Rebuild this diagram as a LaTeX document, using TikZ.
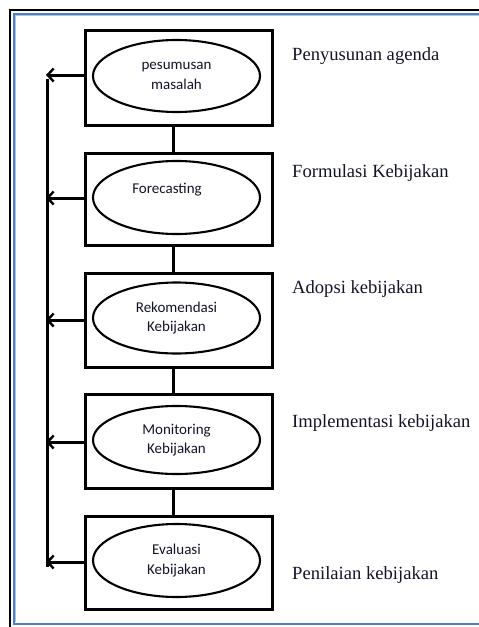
\documentclass[tikz,border=0pt]{standalone}
\usepackage{fontspec}
\setmainfont{Liberation Serif}
\newfontfamily\boxfont{Carlito}
\usetikzlibrary{arrows.meta,shapes.geometric}
\definecolor{frameblue}{RGB}{79,129,189}
\definecolor{framelight}{RGB}{170,195,225}
\definecolor{inktext}{RGB}{20,20,40}
\tikzset{
  stagebox/.style={draw, line width=3pt, minimum width=187pt, inner sep=0pt},
  stageell/.style={draw, ellipse, line width=2.1pt, minimum width=167pt, inner sep=0pt, font=\boxfont\fontsize{15}{19.5}\selectfont, text=inktext, align=center},
  sidelabel/.style={anchor=base west, inner sep=0pt, font=\fontsize{18.6}{22}\selectfont, text=inktext},
  link/.style={line width=3pt},
  backarrow/.style={line width=3pt, -{Straight Barb[length=6pt,width=13pt,line width=2.4pt]}},
}
\begin{document}
\begin{tikzpicture}[x=1pt,y=-1pt]
\useasboundingbox (0,0) rectangle (479,627);
% frames
\draw[line width=2.6pt] (479,10) -- (10,10) -- (10,627);
\draw[framelight, line width=1pt] (479,15.5) -- (15.5,15.5) -- (15.5,622);
\draw[frameblue, line width=1.9pt] (479,13.6) -- (13.6,13.6) -- (13.6,624.2) -- (479,624.2);
% boxes
\node[stagebox, minimum height=95pt] (b1) at (178.5,77.5) {};
\node[stagebox, minimum height=92pt] (b2) at (178.5,199) {};
\node[stagebox, minimum height=94pt] (b3) at (178.5,320) {};
\node[stagebox, minimum height=94pt] (b4) at (178.5,441) {};
\node[stagebox, minimum height=93pt] (b5) at (178.5,562.5) {};
% ellipses
\node[stageell, minimum height=72pt] (e1) at (176.5,76) {pesumusan\\masalah};
\node[stageell, minimum height=73pt] (e2) at (176.5,197.5) {};
\node[font=\boxfont\fontsize{15}{19.5}\selectfont, text=inktext, inner sep=0pt] (t2) at (167,190) {Forecasting};
\node[stageell, minimum height=71pt] (e3) at (176.5,318) {Rekomendasi\\Kebijakan};
\node[stageell, minimum height=68pt] (e4) at (176.5,440) {Monitoring\\Kebijakan};
\node[stageell, minimum height=73pt] (e5) at (176.5,560.5) {Evaluasi\\Kebijakan};
% vertical links between boxes
\draw[link] ([xshift=-5.5pt]b1.south) -- ([xshift=-5.5pt]b2.north);
\draw[link] ([xshift=-5.5pt]b2.south) -- ([xshift=-5.5pt]b3.north);
\draw[link] ([xshift=-5.5pt]b3.south) -- ([xshift=-5.5pt]b4.north);
\draw[link] ([xshift=-5.5pt]b4.south) -- ([xshift=-5.5pt]b5.north);
% feedback spine
\coordinate (spt) at (47,78.5);
\coordinate (spb) at (47,566.5);
\draw[line width=3pt] (spt) -- (spb);
\coordinate (sp) at (46,0);
\draw[backarrow] ([yshift=2.5pt]b1.west) -- ([yshift=2.5pt]b1.west -| sp);
\draw[backarrow] ([yshift=1pt]b2.west) -- ([yshift=1pt]b2.west -| sp);
\draw[backarrow] (b3.west) -- (b3.west -| sp);
\draw[backarrow] ([yshift=-1pt]b4.west) -- ([yshift=-1pt]b4.west -| sp);
\draw[backarrow] ([yshift=0.5pt]b5.west) -- ([yshift=0.5pt]b5.west -| sp);
% labels
\node[sidelabel] (l1) at (292,60) {Penyusunan agenda};
\node[sidelabel] (l2) at (292,177) {Formulasi Kebijakan};
\node[sidelabel] (l3) at (292,293) {Adopsi kebijakan};
\node[sidelabel] (l4) at (292,427) {Implementasi kebijakan};
\node[sidelabel] (l5) at (292,579) {Penilaian kebijakan};
\end{tikzpicture}
\end{document}
